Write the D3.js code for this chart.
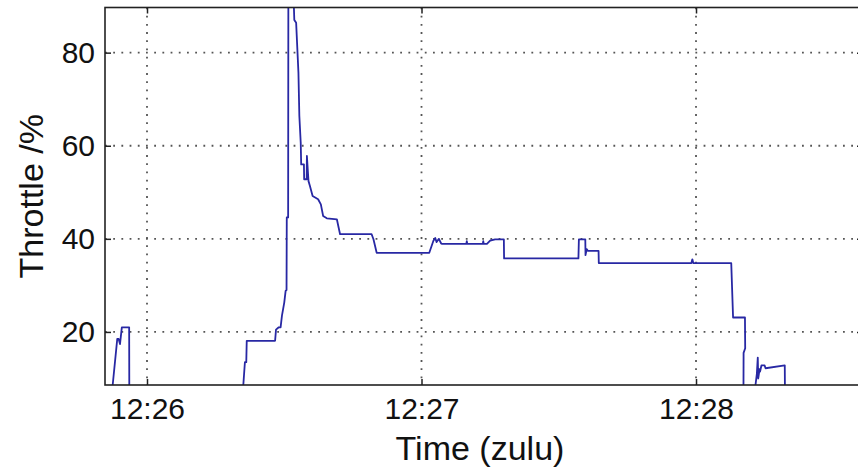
<!DOCTYPE html>
<html>
<head>
<meta charset="utf-8">
<script src="https://cdn.jsdelivr.net/npm/d3@7"></script>
<style>
  body { margin: 0; background: #fff; }
  text { font-family: "Liberation Sans", Arial, sans-serif; fill: #111; }
</style>
</head>
<body>
<div id="chart"></div>
<script>
// seconds after 12:26:00 (zulu) and throttle %
var timeSec = [
  -7.55, -7.5, -6.5, -6.2, -5.9, -5.5, -3.9, -3.85,
  21.0, 21.05, 21.4, 21.7, 21.8, 28.0, 28.2, 28.8, 29.2, 29.5, 30.0, 30.3, 30.5, 30.55, 30.85, 30.9,
  31.5, 32.1, 32.2, 32.6, 33.1, 33.3, 33.6, 33.7, 34.3, 34.35, 34.9, 34.95, 35.3, 35.6, 36.2, 37.4,
  38.0, 38.5, 39.3, 41.5, 41.8, 42.2, 49.1, 49.5, 50.2,
  61.7, 62.6, 63.0, 63.3, 63.8, 64.3, 64.5, 69.8, 69.9, 70.0, 73.4, 73.5, 73.6, 74.3, 75.0, 76.1, 78.0, 78.05,
  94.3, 94.4, 95.8, 95.85, 96.1, 96.4, 98.7, 98.75, 119.0, 119.2, 119.4,
  127.7, 128.1, 130.7, 130.75, 130.4, 130.35,
  132.9, 133.0, 133.3, 133.5, 133.6, 133.9, 134.0, 134.3, 135.0, 135.2, 139.4, 139.5
];
var throttle = [
  0, 8.6, 18.5, 18.5, 17.4, 21.0, 21.0, 0,
  0, 8.6, 13.5, 13.5, 18.1, 18.1, 20.5, 21.0, 21.0, 23.5, 26.3, 28.8, 29.0, 44.6, 44.6, 95,
  95, 90, 87, 86.4, 75.7, 66.4, 60.7, 56.0, 56.0, 52.8, 52.8, 57.8, 52.4, 51.4, 49.2, 48.5,
  47.4, 44.9, 44.4, 44.2, 42.8, 41.0, 41.0, 39.9, 37.0,
  37.0, 39.6, 40.2, 39.3, 40.0, 39.0, 38.9, 38.9, 39.5, 38.9, 38.9, 39.5, 38.9, 38.9, 39.6, 39.9, 39.9, 35.8,
  35.8, 39.9, 39.9, 36.5, 37.8, 37.4, 37.4, 34.8, 34.8, 35.6, 34.8,
  34.8, 23.1, 23.1, 16.5, 15.5, 0,
  0, 8.6, 11.0, 14.5, 10.0, 12.0, 11.5, 12.8, 12.8, 12.2, 12.8, 0
];
var yTicks = [20, 40, 60, 80];
var xTickLabels = ['12:26', '12:27', '12:28'];

var width = 858, height = 468;
var margin = { left: 105, top: 7.5, right: -5, bottom: 83 };
var plotW = width - margin.left - margin.right;
var plotH = height - margin.top - margin.bottom;

var base = new Date(2000, 0, 1, 12, 26, 0);
function toDate(s) { return new Date(base.getTime() + s * 1000); }

var data = timeSec.map(function (s, i) {
  return { t: toDate(s), v: throttle[i] };
});

var x = d3.scaleTime()
  .domain([toDate(-9.18), toDate(156.5)])
  .range([0, plotW]);
var y = d3.scaleLinear()
  .domain([8.6, 89.7])
  .range([plotH, 0]);

var tickDates = xTickLabels.map(function (s) {
  var p = s.split(':');
  return new Date(2000, 0, 1, +p[0], +p[1], 0);
});

var svg = d3.select('#chart').append('svg')
  .attr('width', width).attr('height', height);

var g = svg.append('g').attr('transform', 'translate(' + margin.left + ',' + margin.top + ')');

g.append('clipPath').attr('id', 'clip')
  .append('rect').attr('width', plotW).attr('height', plotH);

// dotted grid
var grid = g.append('g')
  .attr('stroke', '#555').attr('stroke-width', 1.8)
  .attr('stroke-dasharray', '1.8,6.4');
grid.selectAll('.gx').data(tickDates).enter().append('line')
  .attr('x1', function (d) { return x(d); }).attr('x2', function (d) { return x(d); })
  .attr('y1', 0).attr('y2', plotH);
grid.selectAll('.gy').data(yTicks).enter().append('line')
  .attr('y1', function (d) { return y(d); }).attr('y2', function (d) { return y(d); })
  .attr('x1', 0).attr('x2', plotW);

// throttle trace
var line = d3.line()
  .x(function (d) { return x(d.t); })
  .y(function (d) { return y(d.v); });
g.append('path').datum(data)
  .attr('clip-path', 'url(#clip)')
  .attr('fill', 'none')
  .attr('stroke', '#2828a4')
  .attr('stroke-width', 1.8)
  .attr('stroke-linejoin', 'round')
  .attr('d', line);

// axes, ticks pointing inward
var xAxis = d3.axisBottom(x).tickValues(tickDates)
  .tickFormat(d3.timeFormat('%H:%M'))
  .tickSizeInner(-6).tickSizeOuter(0).tickPadding(13);
var yAxis = d3.axisLeft(y).tickValues(yTicks)
  .tickSizeInner(-6).tickSizeOuter(0).tickPadding(10);

function styleAxis(sel) {
  sel.select('.domain').remove();
  sel.selectAll('line').attr('stroke', '#222').attr('stroke-width', 1.5);
  sel.selectAll('text').attr('font-size', 30).attr('fill', '#111');
}

g.append('g').attr('transform', 'translate(0,' + plotH + ')').call(xAxis).call(styleAxis);
g.append('g').call(yAxis).call(styleAxis);
g.append('g').call(d3.axisTop(x).tickValues(tickDates).tickSizeInner(-6).tickSizeOuter(0).tickFormat(''))
  .call(styleAxis);
g.append('g').attr('transform', 'translate(' + plotW + ',0)')
  .call(d3.axisRight(y).tickValues(yTicks).tickSizeInner(-6).tickSizeOuter(0).tickFormat(''))
  .call(styleAxis);

// box
g.append('rect').attr('width', plotW).attr('height', plotH)
  .attr('fill', 'none').attr('stroke', '#222').attr('stroke-width', 1.6);

// titles
svg.append('text')
  .attr('x', margin.left + plotW / 2 - 4).attr('y', 460)
  .attr('text-anchor', 'middle').attr('font-size', 34)
  .text('Time (zulu)');
svg.append('text')
  .attr('transform', 'translate(43,' + (margin.top + plotH / 2) + ') rotate(-90)')
  .attr('text-anchor', 'middle').attr('font-size', 34)
  .text('Throttle /%');
</script>
</body>
</html>
